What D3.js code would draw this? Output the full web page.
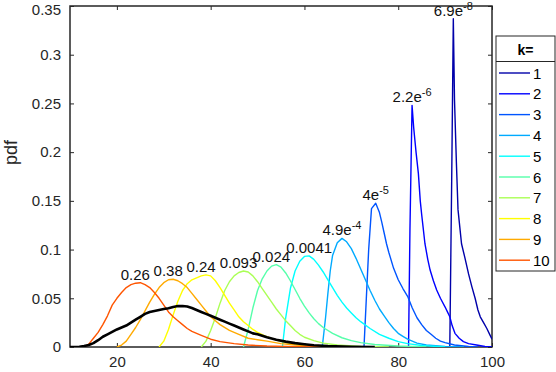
<!DOCTYPE html>
<html>
<head>
<meta charset="utf-8">
<script src="https://cdn.jsdelivr.net/npm/d3@7"></script>
<style>
  body { margin: 0; background: #fff; }
  svg { display: block; font-family: "Liberation Sans", Arial, sans-serif; }
</style>
</head>
<body>
<svg id="chart" width="556" height="372"></svg>
<script>
// --- Data ---
const kValues = [1, 2, 3, 4, 5, 6, 7, 8, 9, 10];
const weightMantissa = ["6.9", "2.2", "4", "4.9", "0.0041", "0.024", "0.093", "0.24", "0.38", "0.26"];
const weightExponent = ["-8", "-6", "-5", "-4", "", "", "", "", "", ""];
const xTicks = [20, 40, 60, 80, 100];
const yTicks = [0, 0.05, 0.1, 0.15, 0.2, 0.25, 0.3, 0.35];

const curve1 = [[91.0,0],[91.4,0.17],[91.75,0.337],[92.0,0.254],[92.4,0.19],[92.75,0.141],[93.2,0.12],[93.5,0.106],[94.2,0.092],[95,0.075],[95.7,0.062],[96.4,0.05],[97,0.038],[97.5,0.031],[98.2,0.025],[98.9,0.019],[99.5,0.013],[100,0.008]];
const curve2 = [[82.2,0],[82.5,0.12],[82.95,0.248],[83.3,0.225],[83.8,0.2],[84.3,0.178],[84.7,0.15],[85,0.136],[85.7,0.106],[86.3,0.09],[86.8,0.079],[87.5,0.068],[88.2,0.0585],[89,0.05],[90,0.041],[90.5,0.036],[91,0.031],[91.5,0.022],[92.1,0.014],[93,0.009],[93.9,0.0055],[95,0.0035],[96.7,0.002],[98.5,0.0005],[100,0]];
const curve3 = [[72.7,0],[73.2,0.05],[73.7,0.1],[74.3,0.142],[75.2,0.1475],[76,0.138],[76.5,0.128],[77,0.117],[77.5,0.106],[78,0.097],[79,0.081],[80,0.069],[81,0.06],[82,0.052],[83,0.04],[84,0.03],[85,0.023],[86,0.017],[87,0.013],[88,0.009],[89,0.006],[90,0.0045],[92,0.002],[95,0.0005],[97,0]];
const curve4 = [[63.8,0],[64.5,0.03],[65,0.055],[65.5,0.078],[66,0.094],[67,0.107],[68,0.1115],[69,0.108],[70,0.101],[71,0.091],[72,0.08],[73,0.069],[74,0.058],[75,0.048],[76,0.039],[77,0.032],[78,0.025],[79,0.019],[80,0.014],[81,0.011],[82,0.008],[84,0.004],[86,0.002],[90,0.0005],[94,0]];
const curve5 = [[55.3,0],[56,0.03],[57,0.06],[58,0.078],[59,0.088],[60,0.093],[61,0.0935],[62,0.09],[63,0.084],[64,0.077],[65,0.069],[66,0.061],[67,0.053],[68,0.046],[69,0.04],[70,0.035],[71,0.03],[72,0.026],[74,0.019],[76,0.013],[78,0.009],[80,0.0055],[82,0.0035],[85,0.0015],[90,0]];
const curve6 = [[47,0],[48,0.018],[49,0.04],[50,0.058],[51,0.07],[52,0.078],[53,0.083],[54,0.0845],[55,0.082],[56,0.076],[57,0.068],[58,0.059],[59,0.05],[60,0.042],[61,0.035],[62,0.029],[63,0.024],[64,0.02],[66,0.014],[68,0.0095],[70,0.0065],[72,0.0045],[75,0.0025],[80,0.001],[86,0]];
const curve7 = [[38,0],[39,0.006],[40,0.017],[41,0.03],[42,0.045],[43,0.058],[44,0.067],[45,0.073],[46,0.0765],[47,0.078],[48,0.077],[49,0.073],[50,0.067],[51,0.06],[52,0.053],[53,0.046],[54,0.039],[55,0.033],[56,0.027],[57,0.022],[58,0.017],[59,0.013],[60,0.01],[62,0.0065],[64,0.004],[67,0.002],[72,0.0005],[78,0]];
const curve8 = [[29,0],[30,0.006],[31,0.018],[32,0.033],[33,0.047],[34,0.058],[35,0.065],[36,0.069],[37,0.071],[38,0.073],[39,0.074],[40,0.073],[41,0.068],[42,0.061],[43,0.053],[44,0.045],[45,0.038],[46,0.031],[47,0.026],[48,0.022],[49,0.018],[50,0.015],[52,0.0105],[54,0.007],[56,0.0045],[58,0.003],[62,0.0015],[70,0]];
const curve9 = [[20,0],[21,0.002],[22,0.006],[23,0.013],[24,0.02],[25,0.028],[26,0.037],[27,0.046],[28,0.054],[29,0.061],[30,0.066],[31,0.069],[32,0.0695],[33,0.068],[34,0.065],[35,0.061],[36,0.055],[37,0.049],[38,0.043],[39,0.037],[40,0.031],[41,0.027],[42,0.023],[44,0.017],[46,0.013],[48,0.009],[50,0.0075],[52,0.006],[55,0.0035],[58,0.002],[62,0.001],[70,0]];
const curve10 = [[13,0],[14,0.003],[15,0.009],[16,0.015],[17,0.023],[18,0.032],[19,0.043],[20,0.05],[21,0.056],[22,0.061],[23,0.064],[24,0.0655],[25,0.066],[26,0.064],[27,0.061],[28,0.056],[29,0.05],[30,0.043],[31,0.036],[32,0.031],[33,0.027],[34,0.023],[35,0.019],[36,0.016],[38,0.012],[40,0.008],[42,0.0055],[45,0.0035],[48,0.002],[52,0.001],[58,0.0003],[65,0]];
const mixture = [[10,0],[12,0.0003],[13,0.001],[14,0.002],[15,0.004],[16,0.007],[17,0.0105],[18,0.013],[19,0.0155],[20,0.018],[21,0.02],[22,0.022],[23,0.025],[24,0.028],[25,0.031],[26,0.034],[27,0.036],[28,0.037],[29,0.038],[30,0.039],[31,0.0398],[32,0.041],[33,0.042],[34,0.042],[35,0.0415],[36,0.04],[37,0.038],[38,0.036],[39,0.034],[40,0.032],[41,0.03],[42,0.028],[43,0.026],[44,0.024],[45,0.022],[46,0.02],[47,0.018],[48,0.016],[49,0.014],[50,0.013],[52,0.01],[54,0.0075],[56,0.0055],[58,0.004],[60,0.0028],[62,0.0018],[65,0.001],[70,0.0003],[75,0]];

const curves = [curve1, curve2, curve3, curve4, curve5, curve6, curve7, curve8, curve9, curve10];
// MATLAB jet(10)
const colors = ["#0000aa", "#0000ff", "#0055ff", "#00aaff", "#00ffff", "#55ffaa", "#aaff55", "#ffff00", "#ffaa00", "#ff5500"];

// --- Layout ---
const svg = d3.select("#chart");
const mLeft = 70, mRight = 492, mTop = 6, mBottom = 347;
const x = d3.scaleLinear().domain([10, 100]).range([mLeft, mRight]);
const y = d3.scaleLinear().domain([0, 0.35]).range([mBottom, mTop]);
const axisColor = "#262626";

svg.append("clipPath").attr("id", "clip")
  .append("rect").attr("x", mLeft).attr("y", mTop - 1).attr("width", mRight - mLeft).attr("height", mBottom - mTop + 1);

// axes (MATLAB-ish: ticks inside, box on)
svg.append("g").attr("transform", `translate(0,${mBottom})`)
  .call(d3.axisBottom(x).tickValues(xTicks).tickSize(-4).tickPadding(9).tickFormat(d3.format("d")))
  .call(g => g.select(".domain").remove());
svg.append("g").attr("transform", `translate(0,${mTop})`)
  .call(d3.axisTop(x).tickValues(xTicks).tickSize(-4).tickFormat(""))
  .call(g => g.select(".domain").remove());
svg.append("g").attr("transform", `translate(${mLeft},0)`)
  .call(d3.axisLeft(y).tickValues(yTicks).tickSize(-4).tickPadding(9).tickFormat(d => String(+d.toFixed(2))))
  .call(g => g.select(".domain").remove())
  .call(g => g.selectAll(".tick text").filter(d => d === 0.35).attr("dy", "0.55em"));
svg.append("g").attr("transform", `translate(${mRight},0)`)
  .call(d3.axisRight(y).tickValues(yTicks).tickSize(-4).tickFormat(""))
  .call(g => g.select(".domain").remove());

svg.selectAll(".tick line").attr("stroke", axisColor);
svg.selectAll(".tick text").attr("fill", axisColor).style("font-size", "15px")
  .style("font-family", "'Liberation Sans', Arial, sans-serif");

svg.append("rect").attr("x", mLeft).attr("y", mTop).attr("width", mRight - mLeft).attr("height", mBottom - mTop)
  .attr("fill", "none").attr("stroke", axisColor).attr("stroke-width", 1.5);

svg.append("text").attr("transform", `translate(17,${(mTop + mBottom) / 2 - 24}) rotate(-90)`)
  .attr("text-anchor", "middle").attr("fill", axisColor).style("font-size", "18px").text("pdf");

// --- Curves ---
const line = d3.line().x(d => x(d[0])).y(d => y(d[1]));
const plot = svg.append("g").attr("clip-path", "url(#clip)");
plot.selectAll(".pdf").data(curves).join("path")
  .attr("class", "pdf").attr("d", line).attr("fill", "none")
  .attr("stroke", (d, i) => colors[i]).attr("stroke-width", 1.4).attr("stroke-linejoin", "round");
plot.append("path").attr("d", line(mixture)).attr("fill", "none")
  .attr("stroke", "#000").attr("stroke-width", 2.6).attr("stroke-linejoin", "round");

// --- Weight labels at each peak ---
curves.forEach((c, i) => {
  const peak = c.reduce((a, b) => (b[1] > a[1] ? b : a));
  const shift = i >= 5 ? -5 : 0;
  const t = svg.append("text").attr("x", x(peak[0]) + shift).attr("y", y(peak[1]) - 3)
    .attr("text-anchor", "middle").attr("fill", "#111").style("font-size", "15px");
  if (weightExponent[i]) {
    t.append("tspan").text(weightMantissa[i] + "e");
    t.append("tspan").attr("dy", -6).style("font-size", "11px").text(weightExponent[i]);
  } else {
    t.text(weightMantissa[i]);
  }
});

// --- Legend ---
const lg = svg.append("g").attr("transform", "translate(496,36)");
lg.append("rect").attr("width", 59).attr("height", 235).attr("fill", "#fff").attr("stroke", axisColor).attr("stroke-width", 1);
lg.append("line").attr("x1", 0).attr("x2", 59).attr("y1", 25.5).attr("y2", 25.5).attr("stroke", axisColor);
lg.append("text").attr("x", 29.5).attr("y", 19).attr("text-anchor", "middle")
  .style("font-size", "14px").style("font-weight", "bold").attr("fill", "#000").text("k=");
const items = lg.selectAll(".item").data(kValues).join("g")
  .attr("transform", (d, i) => `translate(0,${37 + i * 20.8})`);
items.append("line").attr("x1", 3).attr("x2", 34).attr("stroke", (d, i) => colors[i]).attr("stroke-width", 1.4);
items.append("text").attr("x", 37).attr("y", 5.5).style("font-size", "15px").attr("fill", "#000").text(d => d);
</script>
</body>
</html>
